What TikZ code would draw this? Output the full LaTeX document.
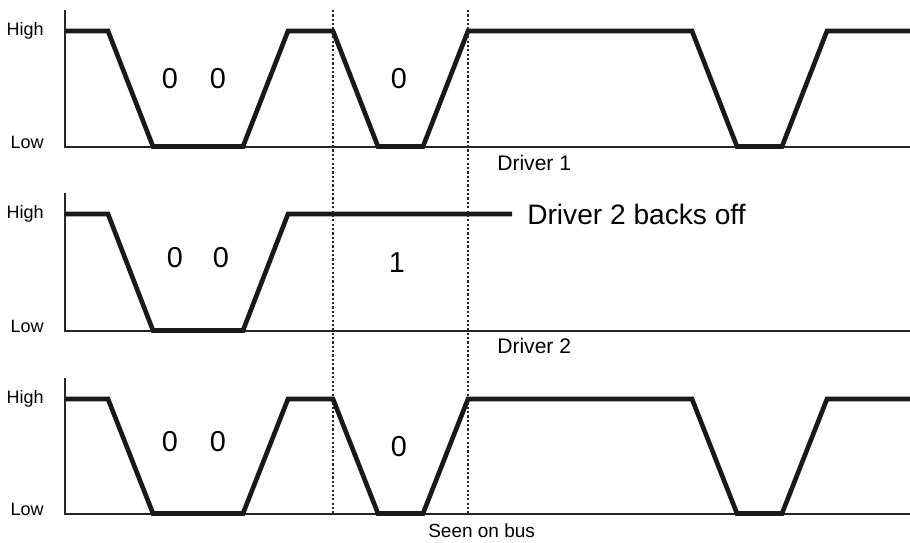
\documentclass[tikz,border=0pt]{standalone}
\usepackage{fontspec}
\setsansfont{Liberation Sans}
\usetikzlibrary{positioning}

\begin{document}
\begin{tikzpicture}[
    x=0.025cm, y=-0.025cm,
    font=\sffamily,
    axisline/.style={line width=1.4pt, black!85},
    signal/.style={line width=3.3pt, black!90, line join=miter},
    guide/.style={line width=1.6pt, black!85, dash pattern=on 1.6pt off 1.5pt},
    level/.style={font=\sffamily\fontsize{12.8}{14}\selectfont, anchor=base east, inner sep=0pt},
    bitval/.style={font=\sffamily\fontsize{20.5}{22}\selectfont, anchor=base, inner sep=0pt},
    tracename/.style={font=\sffamily\fontsize{15}{17}\selectfont, anchor=base west, inner sep=0pt}
]
\useasboundingbox (0,0) rectangle (910,543);

% axes and level labels of the three traces
\foreach \i/\top/\hy/\ly in {1/10/31/147, 2/193/214/331, 3/378/399/514} {
    \draw[axisline] (65,\top) -- (65,\ly) -- (910,\ly);
    \node[level] (high\i) at (44,\hy+5) {High};
    \node[level] (low\i) at (44,\ly+1.5) {Low};
}

% driver 1 and the bus carry the same signal
\foreach \hy/\ly in {31/146.5, 399/513.5} {
    \draw[signal] (65,\hy) -- (108,\hy) -- (153,\ly) -- (243,\ly) -- (288,\hy) -- (333,\hy)
        -- (378,\ly) -- (423,\ly) -- (468,\hy) -- (692,\hy) -- (737,\ly) -- (782,\ly)
        -- (827,\hy) -- (912,\hy);
}
% driver 2
\draw[signal] (65,214) -- (108,214) -- (153,330.5) -- (243,330.5) -- (288,214) -- (512,214);

% bit window
\coordinate (g1t) at (333,10);
\coordinate (g1b) at (333,514);
\coordinate (g2t) at (468,10);
\coordinate (g2b) at (468,514);
\draw[guide] (g1t) -- (g1b);
\draw[guide] (g2t) -- (g2b);

% bit values
\node[bitval] (b1a) at (170,89) {0};
\node[bitval] (b1b) at (218,89) {0};
\node[bitval] (b1c) at (399,89) {0};
\node[bitval] (b2a) at (175,268) {0};
\node[bitval] (b2b) at (221,268) {0};
\node[bitval] (b2c) at (397,273) {1};
\node[bitval] (b3a) at (170,452) {0};
\node[bitval] (b3b) at (218,452) {0};
\node[bitval] (b3c) at (399,457) {0};

% trace names
\node[tracename] (drv1) at (497,171) {Driver 1};
\node[tracename] (drv2) at (497,354) {Driver 2};
\node[tracename, font=\sffamily\fontsize{13.5}{15}\selectfont] (bus) at (428,538) {Seen on bus};
\node[tracename, font=\sffamily\fontsize{20}{22}\selectfont] (backoff) at (527,225) {Driver 2 backs off};
\end{tikzpicture}
\end{document}
